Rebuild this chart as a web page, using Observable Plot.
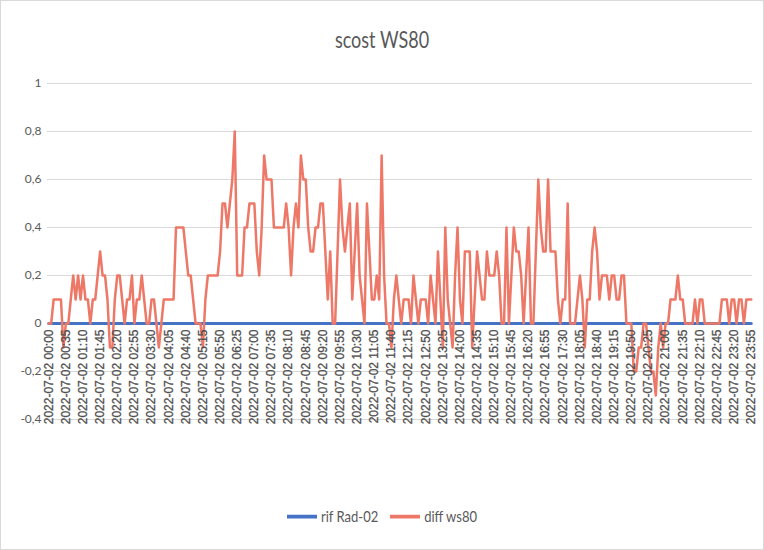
<!DOCTYPE html>
<html>
<head>
<meta charset="utf-8">
<script src="https://cdn.jsdelivr.net/npm/d3@7"></script>
<script src="https://cdn.jsdelivr.net/npm/@observablehq/plot@0.6"></script>
<style>
  body { margin: 0; background: #fff; }
  #chart { position: relative; width: 762px; height: 548px; border: 1px solid #d9d9d9; background: #fff; overflow: hidden; font-family: Lato, "Open Sans", sans-serif; }
  #title { position: absolute; left: 0; right: 0; top: 27px; text-align: center; font-size: 18px; color: #595959; transform: scaleY(1.3); }
  #plot { position: absolute; left: 0; top: 62px; }
  #legend { position: absolute; top: 507px; left: 0; right: 0; display: flex; justify-content: center; gap: 12px; font-size: 13px; color: #595959; transform: scaleY(1.25); }
  .item { display: flex; align-items: center; gap: 4px; }
  .sw { width: 30px; height: 3px; display: inline-block; }
</style>
</head>
<body>
<div id="chart">
  <div id="title">scost WS80</div>
  <div id="plot"></div>
  <div id="legend"></div>
</div>
<script>
// ---- data ----
const seriesNames = ["rif Rad-02", "diff ws80"];
const seriesColors = ["#4472C4", "#EE7867"];

const diff = [
  0, 0, 0.1, 0.1, 0.1, 0.1, -0.1, 0, 0, 0.1,
  0.2, 0.1, 0.2, 0.1, 0.2, 0.1, 0.1, 0, 0.1, 0.1,
  0.2, 0.3, 0.2, 0.2, 0.1, -0.1, -0.1, 0.1, 0.2, 0.2,
  0.1, 0, 0.1, 0.1, 0.2, 0, 0.1, 0.1, 0.2, 0.1,
  0, 0, 0.1, 0.1, 0, -0.1, 0, 0.1, 0.1, 0.1,
  0.1, 0.1, 0.4, 0.4, 0.4, 0.4, 0.3, 0.2, 0.2, 0.1,
  0, 0, 0, -0.1, 0.1, 0.2, 0.2, 0.2, 0.2, 0.2,
  0.3, 0.5, 0.5, 0.4, 0.5, 0.6, 0.8, 0.2, 0.2, 0.2,
  0.4, 0.4, 0.5, 0.5, 0.5, 0.3, 0.2, 0.4, 0.7, 0.6,
  0.6, 0.6, 0.4, 0.4, 0.4, 0.4, 0.4, 0.5, 0.4, 0.2,
  0.4, 0.5, 0.4, 0.7, 0.6, 0.6, 0.4, 0.3, 0.3, 0.4,
  0.4, 0.5, 0.5, 0.3, 0.1, 0.3, 0, 0, 0.3, 0.6,
  0.4, 0.3, 0.4, 0.5, 0.1, 0.3, 0.5, 0.2, 0.1, 0,
  0.5, 0.3, 0.1, 0.1, 0.2, 0.1, 0.7, 0.2, 0, 0,
  -0.1, 0.1, 0.2, 0.1, 0, 0.1, 0.1, 0.1, 0, 0.2,
  0.1, 0, 0.1, 0.1, 0.1, 0, 0.2, 0.1, 0, 0.3,
  0.1, -0.1, 0.4, 0.1, 0, -0.1, 0.2, 0.4, 0.1, 0,
  0.3, 0.3, 0.3, -0.1, 0.1, 0.3, 0.2, 0.1, 0.1, 0.3,
  0.2, 0.2, 0.2, 0.3, 0.2, 0, 0, 0.4, 0, 0.2,
  0.4, 0.3, 0.3, 0.2, 0, 0.2, 0.4, 0, 0, 0.3,
  0.6, 0.4, 0.3, 0.3, 0.6, 0.3, 0.3, 0.3, 0.1, 0,
  0.1, 0.1, 0.5, 0, 0, 0, 0.1, 0.2, 0.1, -0.1,
  0.1, 0.1, 0.3, 0.4, 0.3, 0.1, 0.2, 0.2, 0.2, 0.1,
  0.2, 0.2, 0.1, 0.1, 0.2, 0.2, 0, 0, 0, -0.2,
  -0.2, -0.1, -0.1, 0, 0, -0.1, -0.2, -0.2, -0.3, -0.1,
  0, -0.1, 0, 0, 0.1, 0.1, 0.1, 0.2, 0.1, 0.1,
  0, 0, 0, 0, 0.1, 0, 0.1, 0.1, 0, 0,
  0, 0, 0, 0, 0, 0.1, 0.1, 0.1, 0, 0.1,
  0.1, 0, 0.1, 0.1, 0, 0.1, 0.1, 0.1
];

const rif = [
  0,0,0,0,0,0,0,0,0,0,0,0,0,0,0,0,0,0,0,0,0,0,0,0,0,0,0,0,0,0,0,0,0,0,0,0,0,0,0,0,0,0,0,0,0,0,0,0,
  0,0,0,0,0,0,0,0,0,0,0,0,0,0,0,0,0,0,0,0,0,0,0,0,0,0,0,0,0,0,0,0,0,0,0,0,0,0,0,0,0,0,0,0,0,0,0,0,
  0,0,0,0,0,0,0,0,0,0,0,0,0,0,0,0,0,0,0,0,0,0,0,0,0,0,0,0,0,0,0,0,0,0,0,0,0,0,0,0,0,0,0,0,0,0,0,0,
  0,0,0,0,0,0,0,0,0,0,0,0,0,0,0,0,0,0,0,0,0,0,0,0,0,0,0,0,0,0,0,0,0,0,0,0,0,0,0,0,0,0,0,0,0,0,0,0,
  0,0,0,0,0,0,0,0,0,0,0,0,0,0,0,0,0,0,0,0,0,0,0,0,0,0,0,0,0,0,0,0,0,0,0,0,0,0,0,0,0,0,0,0,0,0,0,0,
  0,0,0,0,0,0,0,0,0,0,0,0,0,0,0,0,0,0,0,0,0,0,0,0,0,0,0,0,0,0,0,0,0,0,0,0,0,0,0,0,0,0,0,0,0,0,0,0
];

const xTickLabels = [
  "2022-07-02 00:00", "2022-07-02 00:35", "2022-07-02 01:10", "2022-07-02 01:45", "2022-07-02 02:20",
  "2022-07-02 02:55", "2022-07-02 03:30", "2022-07-02 04:05", "2022-07-02 04:40", "2022-07-02 05:15",
  "2022-07-02 05:50", "2022-07-02 06:25", "2022-07-02 07:00", "2022-07-02 07:35", "2022-07-02 08:10",
  "2022-07-02 08:45", "2022-07-02 09:20", "2022-07-02 09:55", "2022-07-02 10:30", "2022-07-02 11:05",
  "2022-07-02 11:40", "2022-07-02 12:15", "2022-07-02 12:50", "2022-07-02 13:25", "2022-07-02 14:00",
  "2022-07-02 14:35", "2022-07-02 15:10", "2022-07-02 15:45", "2022-07-02 16:20", "2022-07-02 16:55",
  "2022-07-02 17:30", "2022-07-02 18:05", "2022-07-02 18:40", "2022-07-02 19:15", "2022-07-02 19:50",
  "2022-07-02 20:25", "2022-07-02 21:00", "2022-07-02 21:35", "2022-07-02 22:10", "2022-07-02 22:45",
  "2022-07-02 23:20", "2022-07-02 23:55"
];

const yTicks = [-0.4, -0.2, 0, 0.2, 0.4, 0.6, 0.8, 1];

// categories: one every 5 minutes through the day
const startUTC = Date.UTC(2022, 6, 2, 0, 0);
const stepMinutes = 5;
const fmtTime = d3.utcFormat("%Y-%m-%d %H:%M");
const times = diff.map((_, i) => fmtTime(new Date(startUTC + i * stepMinutes * 60000)));

const rows = times.map((t, i) => ({ time: t, rif: rif[i], diff: diff[i] }));
const rifAt = new Map(rows.map(r => [r.time, r.rif]));

const fmtY = d => (d === 0 ? "0" : String(d).replace(".", ","));

const plot = Plot.plot({
  width: 762,
  height: 425,
  marginLeft: 46,
  marginRight: 11,
  marginTop: 20,
  marginBottom: 69,
  style: { background: "transparent", overflow: "visible" },
  x: { type: "point", domain: times, axis: null },
  y: { domain: [-0.4, 1], axis: null },
  marks: [
    Plot.gridY(yTicks, { stroke: "#d9d9d9", strokeOpacity: 1, strokeWidth: 1 }),
    Plot.axisY(yTicks, { tickSize: 0, tickPadding: 6, tickFormat: fmtY, fontSize: 12, fill: "#595959", fontFamily: "Lato, sans-serif", ariaLabel: "ylab" }),
    Plot.lineY(rows, { x: "time", y: "rif", stroke: seriesColors[0], strokeWidth: 3 }),
    Plot.lineY(rows, { x: "time", y: "diff", stroke: seriesColors[1], strokeWidth: 2.5, strokeLinejoin: "round" }),
    Plot.text(xTickLabels, {
      x: d => d, y: d => rifAt.get(d), text: d => d,
      rotate: -90, textAnchor: "end", dy: 6,
      fontSize: 12, fill: "#505050", fontFamily: "Liberation Sans, Arial, sans-serif",
      stroke: "#505050", strokeWidth: 0.3,
      ariaLabel: "xlab"
    })
  ]
});

// stretch the rotated category labels along their length (as in the reference)
d3.select(plot).selectAll('g[aria-label="xlab"] text').each(function () {
  this.setAttribute("transform", (this.getAttribute("transform") || "") + " scale(1.5,1.05)");
});

document.getElementById("plot").appendChild(plot);

const legend = document.getElementById("legend");
seriesNames.forEach((name, i) => {
  const item = document.createElement("span");
  item.className = "item";
  item.innerHTML = `<span class="sw" style="background:${seriesColors[i]}"></span><span>${name}</span>`;
  legend.appendChild(item);
});
</script>
</body>
</html>
